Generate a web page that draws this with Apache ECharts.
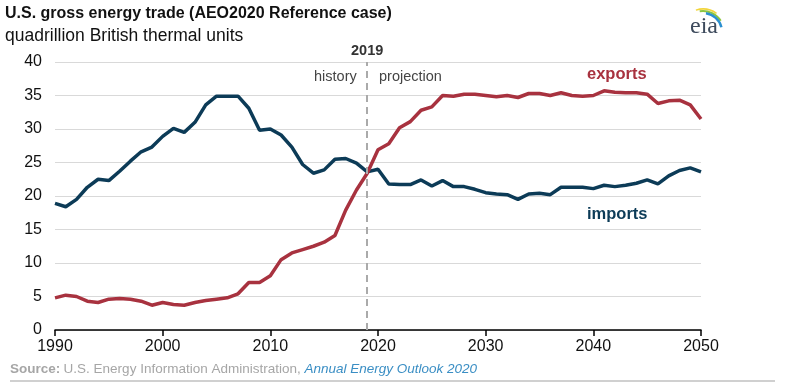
<!DOCTYPE html>
<html><head><meta charset="utf-8">
<script src="https://cdn.jsdelivr.net/npm/echarts@6/dist/echarts.min.js"></script>
<style>html,body{margin:0;padding:0;background:#fff}#c{width:787px;height:386px}</style>
</head><body><div id="c"></div>
<script>
const years = [1990,1991,1992,1993,1994,1995,1996,1997,1998,1999,2000,2001,2002,2003,2004,2005,2006,2007,2008,2009,2010,2011,2012,2013,2014,2015,2016,2017,2018,2019,2020,2021,2022,2023,2024,2025,2026,2027,2028,2029,2030,2031,2032,2033,2034,2035,2036,2037,2038,2039,2040,2041,2042,2043,2044,2045,2046,2047,2048,2049,2050];
const imports = [18.9,18.4,19.5,21.3,22.5,22.3,23.7,25.2,26.6,27.3,28.9,30.1,29.5,31.0,33.6,34.9,34.9,34.9,33.1,29.8,30.0,29.1,27.3,24.7,23.4,23.9,25.5,25.6,24.9,23.6,24.0,21.8,21.7,21.7,22.4,21.5,22.3,21.4,21.4,21.0,20.5,20.3,20.2,19.5,20.3,20.4,20.2,21.3,21.3,21.3,21.1,21.6,21.4,21.6,21.9,22.4,21.8,23.0,23.8,24.2,23.6];
const exportsV = [4.8,5.2,5.0,4.3,4.1,4.6,4.7,4.6,4.3,3.7,4.1,3.8,3.7,4.1,4.4,4.6,4.8,5.4,7.1,7.1,8.1,10.5,11.5,12.0,12.5,13.1,14.1,17.9,20.9,23.4,26.9,27.8,30.2,31.1,32.8,33.3,35.0,34.9,35.2,35.2,35.0,34.8,35.0,34.7,35.3,35.3,35.0,35.4,35.0,34.9,35.0,35.7,35.5,35.4,35.4,35.2,33.8,34.2,34.3,33.6,31.5];
const xTicks = [1990,2000,2010,2020,2030,2040,2050];
const yTicks = [0,5,10,15,20,25,30,35,40];
const splitYear = 2019;

const chart = echarts.init(document.getElementById('c'), null, {renderer:'canvas'});
const pair = arr => years.map((y,i)=>[y,arr[i]]);
const F = 'Liberation Sans, Arial, sans-serif';
chart.setOption({
  animation:false,
  backgroundColor:'#fff',
  grid:{left:55,right:86,top:62,bottom:56,containLabel:false},
  xAxis:{type:'value',min:xTicks[0],max:xTicks[xTicks.length-1],interval:10,
    axisLine:{lineStyle:{color:'#000',width:1.5}},
    axisTick:{show:true,length:6,lineStyle:{color:'#000',width:1.5}},
    axisLabel:{color:'#111',fontSize:16,fontFamily:F,margin:9,formatter:v=>String(v)},
    splitLine:{show:false}},
  yAxis:{type:'value',min:yTicks[0],max:yTicks[yTicks.length-1],interval:5,
    axisLine:{show:false},axisTick:{show:false},
    axisLabel:{color:'#111',fontSize:16,fontFamily:F,margin:13},
    splitLine:{lineStyle:{color:'#d9d9d9',width:1.2}}},
  series:[
    {type:'line',data:pair(imports),symbol:'none',lineStyle:{color:'#0c3b57',width:3.5},z:3},
    {type:'line',data:pair(exportsV),symbol:'none',lineStyle:{color:'#a8323f',width:3.5},z:4,
     markLine:{silent:true,symbol:'none',label:{show:false},
       lineStyle:{color:'#aaaaaa',type:[7,5],width:2},
       data:[[{coord:[splitYear,0]},{coord:[splitYear,40]}]]}}
  ],
  graphic:[
    {type:'text',left:5,top:6,style:{text:'U.S. gross energy trade (AEO2020 Reference case)',font:'bold 16px '+F,fill:'#111'}},
    {type:'text',left:5,top:27,style:{text:'quadrillion British thermal units',font:'17.5px '+F,fill:'#111'}},
    {type:'text',left:351,top:43,style:{text:'2019',font:'bold 14.5px '+F,fill:'#333'}},
    {type:'text',left:314,top:69,style:{text:'history',font:'14.5px '+F,fill:'#444'}},
    {type:'text',left:379,top:69,style:{text:'projection',font:'14.5px '+F,fill:'#444'}},
    {type:'text',left:587,top:66,style:{text:'exports',font:'bold 16.5px '+F,fill:'#a8323f'}},
    {type:'text',left:587,top:206,style:{text:'imports',font:'bold 16.5px '+F,fill:'#0c3b57'}},
    {type:'text',left:10,top:362,style:{rich:{
        b:{font:'bold 13.5px '+F,fill:'#a6a6a6'},
        n:{font:'13.5px '+F,fill:'#a6a6a6'},
        i:{font:'italic 13.5px '+F,fill:'#3a8ec4'}},
      text:'{b|Source:} {n|U.S. Energy Information Administration, }{i|Annual Energy Outlook 2020}'}},
    {type:'line',shape:{x1:10,y1:381,x2:775,y2:381},style:{stroke:'#d0d0d0',lineWidth:2}},
    {type:'text',left:690,top:15,style:{text:'eia',font:'24px Liberation Serif, serif',fill:'#3d4a5c'}},
    {type:'arc',shape:{cx:703,cy:32,r:23,startAngle:-Math.PI*0.6,endAngle:-Math.PI*0.3},style:{stroke:'#f2d53c',lineWidth:1.5,fill:null}},
    {type:'arc',shape:{cx:703,cy:32,r:21,startAngle:-Math.PI*0.55,endAngle:-Math.PI*0.18},style:{stroke:'#8cc63f',lineWidth:2,fill:null}},
    {type:'arc',shape:{cx:703,cy:32,r:19,startAngle:-Math.PI*0.45,endAngle:-Math.PI*0.08},style:{stroke:'#2b8fd0',lineWidth:2.5,fill:null}}
  ]
});
</script></body></html>
